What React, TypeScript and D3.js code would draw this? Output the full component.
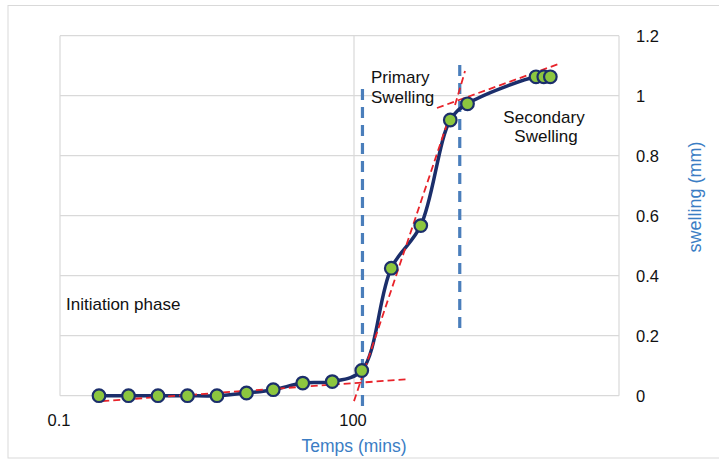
import React, { useRef, useEffect } from 'react';
import * as d3 from 'd3';

// time (mins) vs swelling (mm)
const timeMins = [0.25, 0.5, 1, 2, 4, 8, 15, 30, 60, 120, 240, 480, 960, 1440, 7200, 8640, 10080];
const swelling = [0, 0, 0, 0, 0, 0.009, 0.02, 0.042, 0.047, 0.084, 0.425, 0.567, 0.919, 0.973, 1.063, 1.063, 1.063];

// red dashed tangent lines [time, swelling]
const initiationFit = [[0.27, -0.018], [356, 0.055]];
const primaryFit = [[100, -0.018], [955, 0.936]];
const secondaryJoin = [[1074, 0.969], [1358, 1.082]];
const secondaryFit = [[703, 0.959], [12800, 1.108]];

// blue dashed phase boundaries
const boundaryTimes = [122, 1200];
const boundaryLow = [-0.044, 0.209];
const boundaryHigh = [1.022, 1.102];

const yTicks = [0, 0.2, 0.4, 0.6, 0.8, 1, 1.2];
const xTicks = [0.1, 100];
const xTickLabels = ['0.1', '100'];

const App = () => {
  const svgRef = useRef<SVGSVGElement | null>(null);

  useEffect(() => {
    const svg = d3.select(svgRef.current);
    svg.selectAll('*').remove();

    const width = 719;
    const height = 460;
    const margin = { top: 35.7, right: 100, bottom: 64.3, left: 60 };
    const font = 'Liberation Sans, Arial, sans-serif';

    const x = d3.scaleLog().domain([0.1, 50600]).range([margin.left, width - margin.right]);
    const y = d3.scaleLinear().domain([0, 1.2]).range([height - margin.bottom, margin.top]);

    // outer chart frame
    svg.append('rect')
      .attr('x', 8).attr('y', 5.5)
      .attr('width', 740).attr('height', 452.5)
      .attr('fill', 'white')
      .attr('stroke', '#d9d9d9');

    // gridlines
    const grid = svg.append('g').attr('stroke', '#d9d9d9').attr('stroke-width', 1.2);
    grid.selectAll('line.h')
      .data(yTicks)
      .enter().append('line')
      .attr('x1', x(0.1)).attr('x2', x.range()[1])
      .attr('y1', d => y(d)).attr('y2', d => y(d));
    grid.selectAll('line.v')
      .data([0.1, 100, 50600])
      .enter().append('line')
      .attr('x1', d => x(d)).attr('x2', d => x(d))
      .attr('y1', y(0)).attr('y2', y(1.2));

    // y tick labels (right side)
    svg.append('g').selectAll('text')
      .data(yTicks)
      .enter().append('text')
      .attr('x', 636)
      .attr('y', d => y(d) + 6)
      .attr('font-family', font).attr('font-size', 16.5).attr('fill', '#111')
      .text(d => String(d));

    // x tick labels
    svg.append('g').selectAll('text')
      .data(xTicks)
      .enter().append('text')
      .attr('x', d => x(d) - 1)
      .attr('y', 426)
      .attr('text-anchor', 'middle')
      .attr('font-family', font).attr('font-size', 16.5).attr('fill', '#111')
      .text((d, i) => xTickLabels[i]);

    // axis titles
    svg.append('text')
      .attr('x', 354).attr('y', 452)
      .attr('text-anchor', 'middle')
      .attr('font-family', font).attr('font-size', 17.5).attr('fill', '#3b7dc4')
      .text('Temps (mins)');

    svg.append('text')
      .attr('transform', 'translate(701,197) rotate(-90)')
      .attr('text-anchor', 'middle')
      .attr('font-family', font).attr('font-size', 18).attr('fill', '#3b7dc4')
      .text('swelling (mm)');

    // phase boundaries
    svg.append('g').selectAll('line')
      .data(boundaryTimes)
      .enter().append('line')
      .attr('x1', d => x(d)).attr('x2', d => x(d))
      .attr('y1', (d, i) => y(boundaryHigh[i]))
      .attr('y2', (d, i) => y(boundaryLow[i]))
      .attr('stroke', '#4a7ebb')
      .attr('stroke-width', 3.2)
      .attr('stroke-dasharray', '11,7');

    // main curve
    const pts = timeMins.map((t, i) => [t, swelling[i]]);
    const line = d3.line<number[]>()
      .x(d => x(d[0]))
      .y(d => y(d[1]))
      .curve(d3.curveCatmullRom.alpha(0.5));

    svg.append('path')
      .datum(pts)
      .attr('d', line)
      .attr('fill', 'none')
      .attr('stroke', '#1b2e6b')
      .attr('stroke-width', 3.5);

    // red tangent lines
    const straight = d3.line<number[]>().x(d => x(d[0])).y(d => y(d[1]));
    svg.append('g').selectAll('path')
      .data([initiationFit, primaryFit, secondaryJoin, secondaryFit])
      .enter().append('path')
      .attr('d', d => straight(d))
      .attr('fill', 'none')
      .attr('stroke', '#e8232a')
      .attr('stroke-width', 1.8)
      .attr('stroke-dasharray', '7,4');

    // markers
    svg.append('g').selectAll('circle')
      .data(pts)
      .enter().append('circle')
      .attr('cx', d => x(d[0]))
      .attr('cy', d => y(d[1]))
      .attr('r', 6.3)
      .attr('fill', '#8cc63f')
      .attr('stroke', '#1b2e6b')
      .attr('stroke-width', 2.2);

    // phase labels
    const labels = [
      { text: 'Initiation phase', x: 66, y: 310, anchor: 'start' },
      { text: 'Primary', x: 371, y: 83, anchor: 'start' },
      { text: 'Swelling', x: 371, y: 103, anchor: 'start' },
      { text: 'Secondary', x: 544, y: 123, anchor: 'middle' },
      { text: 'Swelling', x: 546, y: 142, anchor: 'middle' },
    ];
    svg.append('g').selectAll('text')
      .data(labels)
      .enter().append('text')
      .attr('x', d => d.x).attr('y', d => d.y)
      .attr('text-anchor', d => d.anchor)
      .attr('font-family', font).attr('font-size', 17).attr('fill', '#111')
      .text(d => d.text);
  }, []);

  return (
    <svg ref={svgRef} width={719} height={460}
      style={{ position: 'absolute', left: 0, top: 0, background: 'white' }} />
  );
};

export default App;
